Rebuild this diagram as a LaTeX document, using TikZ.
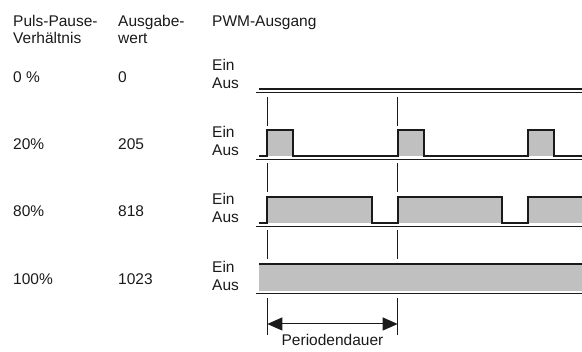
\documentclass[tikz,border=0pt]{standalone}
\usepackage{fontspec}
\setmainfont{Liberation Sans}
\usetikzlibrary{arrows.meta}
\definecolor{pwmgray}{HTML}{C0C0C0}
\definecolor{ink}{HTML}{1A1A1A}
\begin{document}
\begin{tikzpicture}[x=1pt,y=-1pt,
  lbl/.style={anchor=base west,inner sep=0pt,font=\fontsize{15.5}{18}\selectfont,text=ink},
  sig/.style={line width=2pt,line join=miter,draw=ink},
  sepline/.style={line width=1pt,draw=ink},
  tickline/.style={line width=1pt,draw=ink},
  pulse/.style={fill=pwmgray},
  dimarrow/.style={line width=1pt,draw=ink,{Triangle[length=15pt,width=13pt]}-{Triangle[length=15pt,width=13pt]}}]
\useasboundingbox (0,0) rectangle (582,352);

% header
\node[lbl] (h1a) at (13,26.7) {Puls-Pause-};
\node[lbl] (h1b) at (13,43.3) {Verhältnis};
\node[lbl] (h2a) at (118,26.7) {Ausgabe-};
\node[lbl] (h2b) at (118,43.3) {wert};
\node[lbl] (h3) at (212,26.7) {PWM-Ausgang};

% row labels
\foreach \i/\L/\p/\v in {1/89/0 \%/0, 2/156/20\%/205, 3/222.7/80\%/818, 4/290.7/100\%/1023}{
  \node[lbl] (p\i) at (13,\L-6) {\p};
  \node[lbl] (v\i) at (118,\L-6) {\v};
  \node[lbl] (ein\i) at (212,\L-18) {Ein};
  \node[lbl] (aus\i) at (212,\L) {Aus};
}

% row 1: 0 %
\draw[sig] (259,89) -- (582,89);
\draw[sepline] (256,92.8) -- (582,92.8);

% row 2: 20 %
\fill[pulse] (267.3,130) rectangle (293.4,156);
\fill[pulse] (397.7,130) rectangle (423.8,156);
\fill[pulse] (528.1,130) rectangle (554.2,156);
\draw[sig] (259,156) -- (267.3,156) -- (267.3,130) -- (293.4,130) -- (293.4,156)
  -- (397.7,156) -- (397.7,130) -- (423.8,130) -- (423.8,156)
  -- (528.1,156) -- (528.1,130) -- (554.2,130) -- (554.2,156) -- (582,156);
\draw[sepline] (256,159.8) -- (582,159.8);

% row 3: 80 %
\fill[pulse] (267.3,197.3) rectangle (371.6,222.7);
\fill[pulse] (397.7,197.3) rectangle (502,222.7);
\fill[pulse] (528.1,197.3) rectangle (582,222.7);
\draw[sig] (259,222.7) -- (267.3,222.7) -- (267.3,197.3) -- (371.6,197.3) -- (371.6,222.7)
  -- (397.7,222.7) -- (397.7,197.3) -- (502,197.3) -- (502,222.7)
  -- (528.1,222.7) -- (528.1,197.3) -- (582,197.3);
\draw[sepline] (256,226.6) -- (582,226.6);

% row 4: 100 %
\fill[pulse] (259,264) rectangle (582,290.7);
\draw[sig] (259,264) -- (582,264);
\draw[sepline] (256,293.6) -- (582,293.6);

% period ticks
\foreach \a/\b [count=\k] in {97/126, 163/192, 230/259, 298/335}{
  \coordinate (ta\k) at (267.3,\a);
  \coordinate (tb\k) at (267.3,\b);
  \coordinate (ua\k) at (397.7,\a);
  \coordinate (ub\k) at (397.7,\b);
  \draw[tickline] (ta\k) -- (tb\k);
  \draw[tickline] (ua\k) -- (ub\k);
}

% period arrow
\coordinate (arL) at (267.3,324);
\coordinate (arR) at (397.7,324);
\draw[dimarrow] (arL) -- (arR);
\node[lbl,anchor=base] (pd) at (332.5,346) {Periodendauer};
\end{tikzpicture}
\end{document}
